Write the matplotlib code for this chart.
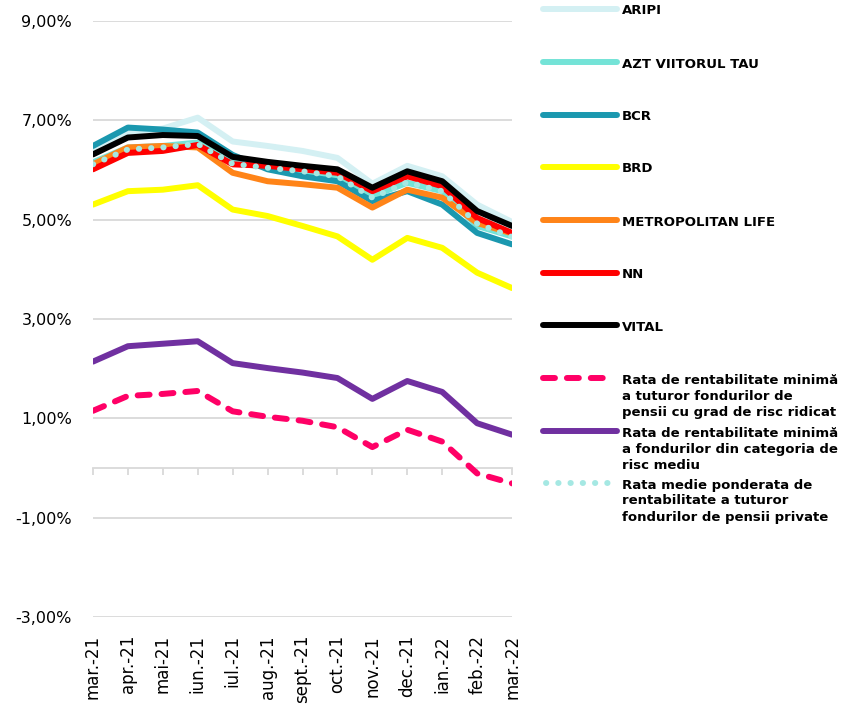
import matplotlib
matplotlib.use('Agg')
import matplotlib.pyplot as plt
from matplotlib.lines import Line2D
from matplotlib.ticker import FuncFormatter

months = ['mar.-21', 'apr.-21', 'mai-21', 'iun.-21', 'iul.-21', 'aug.-21', 'sept.-21',
          'oct.-21', 'nov.-21', 'dec.-21', 'ian.-22', 'feb.-22', 'mar.-22']

aripi = [6.40, 6.75, 6.83, 7.05, 6.57, 6.48, 6.38, 6.24, 5.72, 6.08, 5.87, 5.30, 4.95]
azt = [6.15, 6.45, 6.48, 6.55, 6.15, 6.05, 5.95, 5.85, 5.47, 5.74, 5.57, 4.87, 4.66]
bcr = [6.48, 6.85, 6.81, 6.75, 6.30, 6.01, 5.87, 5.77, 5.37, 5.57, 5.30, 4.73, 4.50]
brd = [5.30, 5.57, 5.60, 5.69, 5.20, 5.07, 4.87, 4.66, 4.19, 4.63, 4.43, 3.93, 3.62]
metropolitan = [6.11, 6.45, 6.48, 6.45, 5.94, 5.77, 5.71, 5.64, 5.24, 5.60, 5.44, 4.93, 4.72]
nn = [6.01, 6.34, 6.38, 6.50, 6.11, 6.08, 6.01, 5.94, 5.57, 5.87, 5.67, 5.03, 4.73]
vital = [6.31, 6.65, 6.70, 6.68, 6.26, 6.16, 6.08, 6.01, 5.64, 5.97, 5.77, 5.17, 4.87]
min_risc_ridicat = [1.15, 1.45, 1.49, 1.55, 1.14, 1.03, 0.95, 0.82, 0.42, 0.77, 0.53, -0.11, -0.31]
min_risc_mediu = [2.14, 2.45, 2.50, 2.55, 2.11, 2.01, 1.92, 1.81, 1.39, 1.75, 1.53, 0.90, 0.67]
medie_ponderata = [6.11, 6.41, 6.45, 6.52, 6.12, 6.04, 5.97, 5.87, 5.44, 5.75, 5.57, 4.92, 4.65]

labels = ['ARIPI', 'AZT VIITORUL TAU', 'BCR', 'BRD', 'METROPOLITAN LIFE', 'NN', 'VITAL',
          'Rata de rentabilitate minimă\na tuturor fondurilor de\npensii cu grad de risc ridicat',
          'Rata de rentabilitate minimă\na fondurilor din categoria de\nrisc mediu',
          'Rata medie ponderata de\nrentabilitate a tuturor\nfondurilor de pensii private']

series = [aripi, azt, bcr, brd, metropolitan, nn, vital,
          min_risc_ridicat, min_risc_mediu, medie_ponderata]
colors = ['#D4F0F3', '#74E3D7', '#1B98AF', '#FFFF00', '#FF8418', '#FF0000', '#000000',
          '#FF0066', '#7030A0', '#A5E8E3']
# solid, dashed, dotted
styles = ['-'] * 7 + ['--', '-', ':']

lw = 4.3
grey = '#D9D9D9'

fig = plt.figure(figsize=(8.45, 7.15), dpi=100)
ax = fig.add_axes([0.110, 0.137, 0.496, 0.834])

x = list(range(len(months)))


def make_line(xs, ys, c, st, **kw):
    if st == '--':
        ls = (0, (2.0, 2.0))
    elif st == ':':
        ls = (0, (0.05, 2.0))
    else:
        ls = '-'
    return Line2D(xs, ys, color=c, lw=lw, linestyle=ls, solid_joinstyle='round',
                  solid_capstyle='round', dash_capstyle='round', dash_joinstyle='round', **kw)


for s, c, st in zip(series, colors, styles):
    ax.add_line(make_line(x, s, c, st, zorder=3))

ax.set_xlim(0, len(months) - 1)
ax.set_ylim(-3, 9)
ax.set_yticks([-3, -1, 1, 3, 5, 7, 9])
ax.yaxis.set_major_formatter(FuncFormatter(lambda v, p: ('%.2f%%' % v).replace('.', ',')))
ax.tick_params(axis='y', length=0, pad=15, labelsize=11.5, labelcolor='#000000')
ax.grid(axis='y', color=grey, lw=1.3, zorder=1)

for sp in ['left', 'right', 'top']:
    ax.spines[sp].set_visible(False)

# axis line at zero with ticks, labels kept at the bottom
ax.spines['bottom'].set_position(('data', 0))
ax.spines['bottom'].set_color(grey)
ax.spines['bottom'].set_linewidth(1.3)
ax.set_xticks(x)
ax.tick_params(axis='x', direction='out', length=5, width=1.3, color=grey, labelbottom=False)

sec = ax.secondary_xaxis('bottom')
sec.set_xticks(x)
sec.set_xticklabels(months, rotation=90, fontsize=12, va='top')
sec.tick_params(length=0, pad=13)
sec.spines['bottom'].set_visible(False)

# legend on the right, one entry per row
W, H = 845, 715
rows = [9, 62, 115, 167, 220, 273, 325, 378, 431, 483]
for lab, c, st, yy in zip(labels, colors, styles, rows):
    yf = 1 - yy / H
    x1 = 612 / W if st == '--' else 617 / W
    x0 = 546 / W if st == ':' else 543 / W
    fig.add_artist(make_line([x0, x1], [yf, yf], c, st, transform=fig.transFigure))
    fig.text(622 / W, 1 - (yy - 4.5) / H, lab, fontsize=9.5, fontweight='bold',
             va='top', ha='left', linespacing=1.3)

fig.savefig('out.png', dpi=100)
